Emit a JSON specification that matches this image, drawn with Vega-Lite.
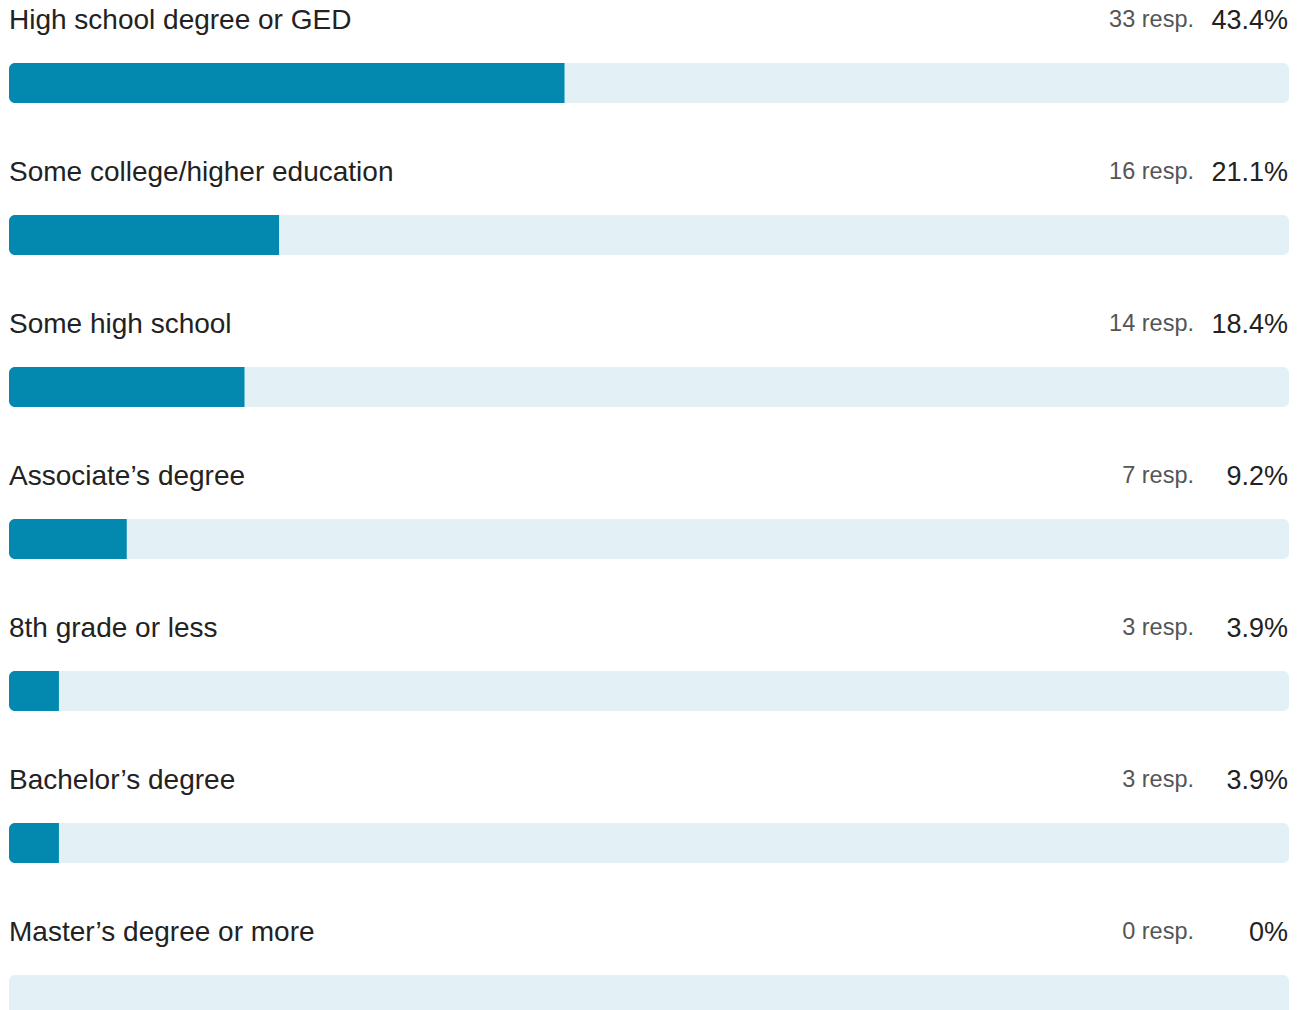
{
  "$schema": "https://vega.github.io/schema/vega-lite/v6.json",
  "width": 1301,
  "height": 1010,
  "autosize": {"type": "none"},
  "padding": 0,
  "background": "#ffffff",
  "config": {"view": {"stroke": null}, "font": "Liberation Sans"},
  "data": {
    "values": [
      {"label": "High school degree or GED", "resp": 33, "pct": 43.4},
      {"label": "Some college/higher education", "resp": 16, "pct": 21.1},
      {"label": "Some high school", "resp": 14, "pct": 18.4},
      {"label": "Associate’s degree", "resp": 7, "pct": 9.2},
      {"label": "8th grade or less", "resp": 3, "pct": 3.9},
      {"label": "Bachelor’s degree", "resp": 3, "pct": 3.9},
      {"label": "Master’s degree or more", "resp": 0, "pct": 0}
    ]
  },
  "transform": [
    {"calculate": "datum.resp + ' resp.'", "as": "respText"},
    {"calculate": "datum.pct + '%'", "as": "pctText"},
    {"calculate": "0", "as": "lo"},
    {"calculate": "100", "as": "hi"}
  ],
  "encoding": {
    "y": {
      "field": "label",
      "type": "nominal",
      "sort": null,
      "scale": {"range": [7, 1071], "paddingInner": 0, "paddingOuter": 0},
      "axis": null
    }
  },
  "layer": [
    {
      "mark": {"type": "bar", "height": 40, "color": "#e3f1f7", "cornerRadius": 6},
      "encoding": {
        "x": {"field": "lo", "type": "quantitative", "scale": {"domain": [0, 100], "range": [9, 1289]}, "axis": null},
        "x2": {"field": "hi"}
      }
    },
    {
      "mark": {"type": "bar", "height": 40, "color": "#0388af", "cornerRadiusTopLeft": 6, "cornerRadiusBottomLeft": 6},
      "encoding": {
        "x": {"field": "lo", "type": "quantitative"},
        "x2": {"field": "pct"}
      }
    },
    {
      "mark": {"type": "text", "align": "left", "baseline": "alphabetic", "dy": -54, "fontSize": 28, "color": "#222222"},
      "encoding": {
        "x": {"field": "lo", "type": "quantitative"},
        "text": {"field": "label"}
      }
    },
    {
      "mark": {"type": "text", "align": "right", "baseline": "alphabetic", "dy": -56, "dx": -95, "fontSize": 23.5, "color": "#555555"},
      "encoding": {
        "x": {"field": "hi", "type": "quantitative"},
        "text": {"field": "respText"}
      }
    },
    {
      "mark": {"type": "text", "align": "right", "baseline": "alphabetic", "dy": -54, "dx": -1, "fontSize": 27, "color": "#222222"},
      "encoding": {
        "x": {"field": "hi", "type": "quantitative"},
        "text": {"field": "pctText"}
      }
    }
  ]
}
